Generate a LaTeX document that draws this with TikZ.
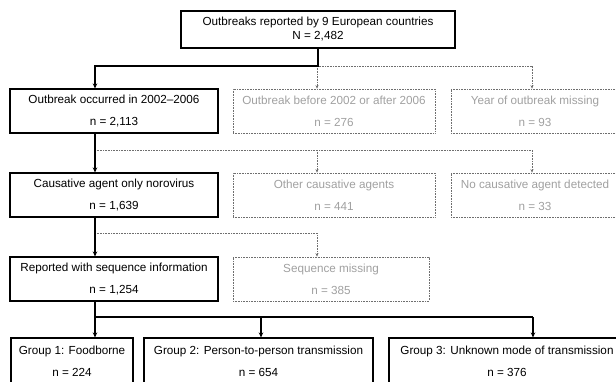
\documentclass[tikz,border=0pt]{standalone}
\usepackage{fontspec}
\setmainfont{Liberation Sans}
\usetikzlibrary{arrows.meta}
\definecolor{dimtext}{RGB}{160,160,160}
\definecolor{dimline}{RGB}{110,110,110}
\begin{document}
\begin{tikzpicture}[x=1pt,y=-1pt,
	font=\fontsize{11.7}{22}\selectfont,
	mainbox/.style={draw,line width=1.1pt,align=center,inner sep=0pt,minimum height=44pt},
	dropbox/.style={draw=dimline,text=dimtext,line width=.7pt,dash pattern=on .8pt off .8pt,align=center,inner sep=0pt,minimum height=44pt},
	arr/.style={line width=1.1pt,-{Stealth[length=5pt,width=4.5pt]}},
	dotarr/.style={draw=dimline,line width=.7pt,dash pattern=on .8pt off .8pt,-{Stealth[length=3.5pt,width=3pt]}}]
	\clip (0,0) rectangle (616,381);
	\node[mainbox,minimum width=274pt,minimum height=37pt,font=\fontsize{11.7}{14}\selectfont] (top) at (318,29.5) {Outbreaks reported by 9 European countries\\N = 2,482};
	% row 1
	\node[mainbox,minimum width=208pt] (o1) at (114,111) {Outbreak occurred in 2002--2006\\n = 2,113};
	\node[dropbox,minimum width=202pt] (x1a) at (334,111) {Outbreak before 2002 or after 2006\\n = 276};
	\node[dropbox,minimum width=168pt] (x1b) at (535,111) {Year of outbreak missing\\n = 93};
	% row 2
	\node[mainbox,minimum width=208pt] (o2) at (114,195) {Causative agent only norovirus\\n = 1,639};
	\node[dropbox,minimum width=202pt] (x2a) at (334,195) {Other causative agents\\n = 441};
	\node[dropbox,minimum width=168pt] (x2b) at (535,195) {No causative agent detected\\n = 33};
	% row 3
	\node[mainbox,minimum width=208pt] (o3) at (114,279) {Reported with sequence information\\n = 1,254};
	\node[dropbox,minimum width=196pt] (x3) at (331,279) {Sequence missing\\n = 385};
	% groups
	\node[mainbox,minimum width=122pt,minimum height=46pt] (g1) at (72,361) {Group 1: Foodborne\\n = 224};
	\node[mainbox,minimum width=229pt,minimum height=46pt] (g2) at (258.5,361) {Group 2: Person-to-person transmission\\n = 654};
	\node[mainbox,minimum width=236pt,minimum height=46pt] (g3) at (507,361) {Group 3: Unknown mode of transmission\\n = 376};
	% connectors
	\coordinate (s1) at (95,66); \coordinate (d1) at (532,66);
	\coordinate (s2) at (95,150); \coordinate (d2) at (532,150);
	\coordinate (s3) at (95,233); \coordinate (d3) at (317,233);
	\coordinate (s4) at (95,317); \coordinate (m4) at (261,317); \coordinate (e4) at (533,317);
	\draw[dotarr] (d3 |- s1) -- (d1) -- (d1 |- x1b.north);
	\draw[dotarr] (d3 |- s1) -- (d3 |- x1a.north);
	\draw[arr] (top.south) |- (s1) -- (s1 |- o1.north);
	\draw[dotarr] (s2) -- (d2) -- (d2 |- x2b.north);
	\draw[dotarr] (d3 |- s2) -- (d3 |- x2a.north);
	\draw[arr] (s1 |- o1.south) -- (s1 |- o2.north);
	\draw[dotarr] (s3) -- (d3) -- (d3 |- x3.north);
	\draw[arr] (s1 |- o2.south) -- (s1 |- o3.north);
	\draw[line width=1.1pt] (s1 |- o3.south) -- (s4) -- (e4);
	\draw[arr] (s4) -- (s4 |- g1.north);
	\draw[arr] (m4) -- (m4 |- g2.north);
	\draw[arr] (e4) -- (e4 |- g3.north);
\end{tikzpicture}
\end{document}
